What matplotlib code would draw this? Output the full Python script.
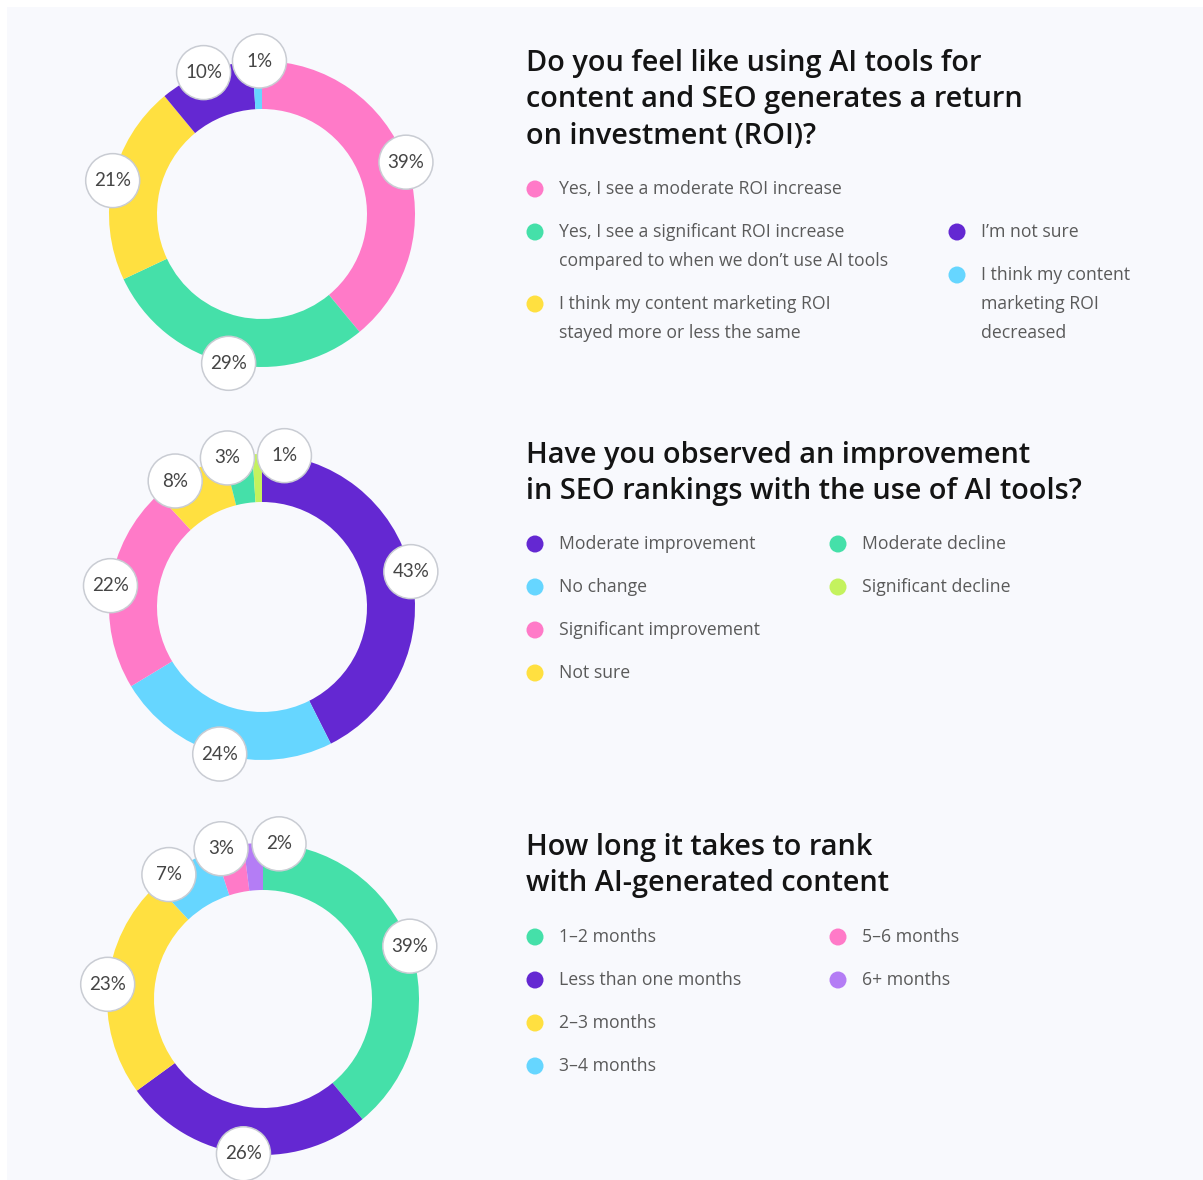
import matplotlib
matplotlib.use("Agg")
import matplotlib.pyplot as plt
from matplotlib.patches import Circle, Rectangle
import numpy as np

plt.rcParams["font.family"] = ["Lato", "DejaVu Sans"]
TEXT_FONT = ["Open Sans", "DejaVu Sans"]

W, H = 1203, 1180

PINK = "#ff7ac8"
GREEN = "#45e0a9"
YELLOW = "#ffe040"
PURPLE = "#6428d2"
BLUE = "#66d6ff"
LIME = "#c4f25e"
LAVENDER = "#b47df5"

# chart 1: ROI
roi_title = ["Do you feel like using AI tools for",
             "content and SEO generates a return",
             "on investment (ROI)?"]
roi_labels = ["Yes, I see a moderate ROI increase",
              "Yes, I see a significant ROI increase\ncompared to when we don\u2019t use AI tools",
              "I think my content marketing ROI\nstayed more or less the same",
              "I\u2019m not sure",
              "I think my content\nmarketing ROI\ndecreased"]
roi_values = [39, 29, 21, 10, 1]
roi_colors = [PINK, GREEN, YELLOW, PURPLE, BLUE]

# chart 2: rankings
rank_title = ["Have you observed an improvement",
              "in SEO rankings with the use of AI tools?"]
rank_labels = ["Moderate improvement", "No change", "Significant improvement",
               "Not sure", "Moderate decline", "Significant decline"]
rank_values = [43, 24, 22, 8, 3, 1]
rank_colors = [PURPLE, BLUE, PINK, YELLOW, GREEN, LIME]

# chart 3: time to rank
time_title = ["How long it takes to rank",
              "with AI-generated content"]
time_labels = ["1\u20132 months", "Less than one months", "2\u20133 months",
               "3\u20134 months", "5\u20136 months", "6+ months"]
time_values = [39, 26, 23, 7, 3, 2]
time_colors = [GREEN, PURPLE, YELLOW, BLUE, PINK, LAVENDER]

charts = [
    dict(title=roi_title, labels=roi_labels, values=roi_values, colors=roi_colors,
         center=(262, 214), radius=153, width=48, title_y=64,
         col1=(535, 189), col2=(957, 232), split=3),
    dict(title=rank_title, labels=rank_labels, values=rank_values, colors=rank_colors,
         center=(262, 607), radius=153, width=48, title_y=455,
         col1=(535, 544), col2=(838, 544), split=4),
    dict(title=time_title, labels=time_labels, values=time_values, colors=time_colors,
         center=(263, 999), radius=156, width=47, title_y=848,
         col1=(535, 937), col2=(838, 937), split=4),
]


def label_angles(values, min_sep=21.5):
    # clockwise-from-top angle of each slice middle, pushed apart so bubbles don't overlap
    frac = np.asarray(values, float) / np.sum(values)
    ends = np.cumsum(frac) * 360
    mids = ends - frac * 180
    s = np.sort(mids)
    gaps = np.diff(np.r_[s, s[0] + 360])
    k = np.argmax(gaps)
    cut = s[k] + gaps[k] / 2
    rel = (mids - cut) % 360
    clusters = [[i] for i in np.argsort(rel)]

    def place(c):
        return rel[c].mean() + (np.arange(len(c)) - (len(c) - 1) / 2) * min_sep

    merged = True
    while merged:
        merged = False
        for j in range(len(clusters) - 1):
            if place(clusters[j])[-1] + min_sep > place(clusters[j + 1])[0]:
                clusters[j] = clusters[j] + clusters.pop(j + 1)
                merged = True
                break
    out = np.empty(len(values))
    for c in clusters:
        out[c] = place(c) + cut
    return out % 360


fig = plt.figure(figsize=(W / 100, H / 100), dpi=100, facecolor="white")
ax = fig.add_axes([0, 0, 1, 1])
ax.add_patch(Rectangle((7, 0), W - 7, H - 7, facecolor="#f8f9fd", edgecolor="none", zorder=0))

for ch in charts:
    cx, cy = ch["center"]
    r = ch["radius"]
    ax.pie(ch["values"], colors=ch["colors"], startangle=90, counterclock=False,
           radius=r, center=(cx, H - cy), frame=True,
           wedgeprops=dict(width=ch["width"], linewidth=0))

    for ang, v in zip(label_angles(ch["values"]), ch["values"]):
        a = np.deg2rad(ang)
        x, y = cx + r * np.sin(a), H - cy + r * np.cos(a)
        ax.add_patch(Circle((x, y), 27, facecolor="white", edgecolor="#c9ccd3",
                            linewidth=1.1, zorder=3))
        ax.text(x, y, f"{v}%", ha="center", va="center", fontsize=13.5,
                color="#454545", zorder=4)

    for i, line in enumerate(ch["title"]):
        ax.text(526, H - (ch["title_y"] + 36 * i), line, ha="left", va="center",
                fontsize=20.8, fontweight="semibold", color="#141414", family=TEXT_FONT)

    for col, (dx, dy), items in [
        (0, ch["col1"], range(ch["split"])),
        (1, ch["col2"], range(ch["split"], len(ch["labels"]))),
    ]:
        y = dy
        for i in items:
            ax.add_patch(Circle((dx, H - y), 8.5, facecolor=ch["colors"][i],
                                edgecolor="none", zorder=3))
            lines = ch["labels"][i].split("\n")
            for j, line in enumerate(lines):
                ax.text(dx + 24, H - (y + 29 * j), line, ha="left", va="center",
                        fontsize=12.7, color="#5a5a5a", family=TEXT_FONT)
            y += 43 + 29 * (len(lines) - 1)

ax.set_xlim(0, W)
ax.set_ylim(0, H)
ax.set_aspect("equal")
ax.axis("off")
fig.savefig("out.png", dpi=100, facecolor="white")
